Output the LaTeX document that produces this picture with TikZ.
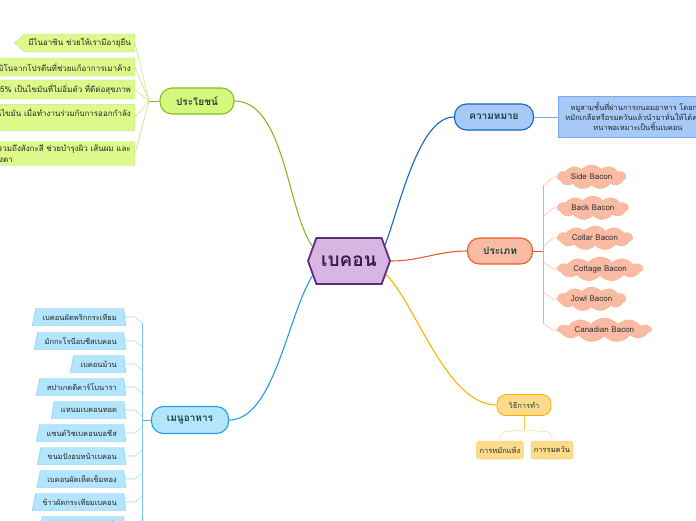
\documentclass[tikz,border=0pt]{standalone}
\usepackage{fontspec}
\setmainfont{Loma}[Script=Thai]
\usetikzlibrary{shapes.symbols,shapes.geometric}

\definecolor{purplefill}{HTML}{D9B5E3}
\definecolor{purpleline}{HTML}{5E2D79}
\definecolor{labelgreen}{HTML}{17453A}
\definecolor{limefill}{HTML}{D5F77E}
\definecolor{limeline}{HTML}{84BD1A}
\definecolor{limelight}{HTML}{C6E67C}
\definecolor{limebox}{HTML}{DDF98C}
\definecolor{blueline}{HTML}{1565C0}
\definecolor{bluefill}{HTML}{A6C9F7}
\definecolor{bluelight}{HTML}{78A7EA}
\definecolor{orangeline}{HTML}{F05A28}
\definecolor{salmonfill}{HTML}{F9BBA3}
\definecolor{salmonlight}{HTML}{F8C3AE}
\definecolor{yellowline}{HTML}{FFB300}
\definecolor{yellowfill}{HTML}{FDDB8C}
\definecolor{yellowlight}{HTML}{FBE0A0}
\definecolor{cyanline}{HTML}{1E9EE3}
\definecolor{cyanfill}{HTML}{B3E5FC}
\definecolor{cyanlight}{HTML}{A3DBF7}

\tikzset{
  topic/.style={rectangle, rounded corners=12pt, minimum height=26pt, line width=1.1pt,
    font=\fontsize{10}{12}\selectfont\bfseries, text=labelgreen},
  benefitbox/.style={signal, signal to=west, signal pointer angle=84, fill=limebox, draw=limelight,
    font=\fontsize{8}{10.5}\selectfont, text=black!85, align=left, inner xsep=4pt, minimum height=18pt, anchor=east},
  typecloud/.style={cloud, cloud puffs=11, cloud puff arc=100, cloud ignores aspect, fill=salmonfill,
    draw=salmonlight!80!orange, font=\fontsize{8}{9}\selectfont, text=black!80, inner xsep=4pt,
    inner ysep=1pt, minimum height=24pt, anchor=west},
  menubox/.style={trapezium, trapezium stretches body=true, trapezium left angle=68, trapezium right angle=77,
    fill=cyanfill, draw=cyanlight!70!cyanline, font=\fontsize{7.5}{9}\selectfont, text=black!85,
    inner xsep=7pt, inner ysep=1pt, minimum height=17pt, anchor=east},
  stepsbox/.style={rectangle, rounded corners=2pt, fill=yellowfill, draw=yellowlight!70!yellowline,
    font=\fontsize{7.5}{9}\selectfont, text=black!85, minimum height=18pt, inner xsep=3pt},
  link/.style={line width=1.1pt},
  twig/.style={line width=0.6pt}
}

\begin{document}
\begin{tikzpicture}[x=1pt,y=-1pt]
\useasboundingbox (0,0) rectangle (696,520);
\clip (0,0) rectangle (696,520);

% centre
\node[signal, signal to=east and west, signal pointer angle=140, fill=purplefill, draw=purpleline,
  line width=1.8pt, minimum width=82pt, minimum height=46pt,
  font=\fontsize{19}{22}\selectfont\bfseries, text=purpleline!60!black] (bacon) at (349,261) {เบคอน};

% main topics
\node[topic, fill=limefill, draw=limeline, minimum width=74pt] (benefit) at (197,101) {ประโยชน์};
\node[topic, fill=bluefill, draw=blueline, minimum width=79pt] (meaning) at (494,117) {ความหมาย};
\node[topic, fill=salmonfill, draw=orangeline, minimum width=65pt] (kind) at (500,251) {ประเภท};
\node[topic, fill=yellowfill, draw=yellowline!85!orange, minimum width=54pt, minimum height=21pt,
  rounded corners=9pt, line width=0.8pt, font=\fontsize{7.5}{9}\selectfont] (method) at (524,405) {วิธีการทำ};
\node[topic, fill=cyanfill, draw=cyanline, minimum width=77pt, minimum height=27pt] (menu) at (190,420) {เมนูอาหาร};

\draw[link, limeline] (bacon.158) .. controls +(-25,-35) and +(50,0) .. (benefit.east);
\draw[link, blueline] (bacon.24) .. controls +(15,-40) and +(-35,0) .. (meaning.west);
\draw[link, orangeline] (bacon.east) .. controls +(30,0) and +(-30,0) .. (kind.west);
\draw[link, yellowline] (bacon.-20) .. controls +(30,30) and +(-50,0) .. (method.west);
\draw[link, cyanline] (bacon.-158) .. controls +(-25,40) and +(45,0) .. (menu.east);

% meaning
\node[rectangle, fill=bluefill, draw=bluelight, font=\fontsize{7.5}{10}\selectfont, text=black!85,
  align=center, minimum height=41pt, text width=152pt] (define) at (638,117)
  {หมูสามชั้นที่ผ่านการถนอมอาหาร โดยการ\\หมักเกลือหรือรมควันแล้วนำมาหั่นให้ได้ความ\\หนาพอเหมาะเป็นชิ้นเบคอน};
\draw[twig, bluelight] (meaning.east) -- (define.west);

% benefits
\node[benefitbox] (b1) at (135,43) {มีไนอาซิน ช่วยให้เรามีอายุยืน};
\node[benefitbox] (b2) at (135,67) {มีกรดอะมิโนจากโปรตีนที่ช่วยแก้อาการเมาค้าง};
\node[benefitbox, minimum height=19pt] (b3) at (135,89.5) {ไขมันในเบคอน 45\% เป็นไขมันที่ไม่อิ่มตัว ที่ดีต่อสุขภาพ};
\node[benefitbox] (b4) at (135,117.5) {มีโคลีน ช่วยลดชั้นไขมัน เมื่อทำงานร่วมกับการออกกำลัง\\กาย};
\node[benefitbox] (b5) at (135,153.5) {ยังรวมถึงสังกะสี ช่วยบำรุงผิว เส้นผม และ\\ดวงตา};
\coordinate (bhub) at (149,101);
\draw[twig, limeline] (benefit.west) -- (bhub);
\foreach \b in {b1,b2,b3,b4,b5}
  \draw[twig, limelight] (\b.east) -- (bhub);

% kinds
\node[typecloud] (k1) at (557,177) {Side Bacon};
\node[typecloud] (k2) at (557,208) {Back Bacon};
\node[typecloud] (k3) at (557,238) {Collar Bacon};
\node[typecloud] (k4) at (557,269) {Cottage Bacon};
\node[typecloud] (k5) at (557,299) {Jowl Bacon};
\node[typecloud] (k6) at (557,330) {Canadian Bacon};
\coordinate (kfork) at (543,251);
\coordinate (ktop) at (543,186);
\coordinate (kbot) at (543,323);
\draw[twig, orangeline] (kind.east) -- (kfork);
\draw[twig, orangeline!55!white] (ktop) -- (kbot);
\foreach \k in {k1,k2,k3}
  \draw[twig, salmonlight] (\k.west) -- ++(-4,0) -- ++(-10,9);
\foreach \k in {k4,k5,k6}
  \draw[twig, salmonlight] (\k.west) -- ++(-4,0) -- ++(-10,-7);

% method
\node[stepsbox] (dry) at (500,450) {การหมักแห้ง};
\node[stepsbox] (smoke) at (552,450) {การรมควัน};
\coordinate (mfork) at (524,430);
\draw[twig, yellowline!70!white] (method.south) -- (mfork);
\draw[twig, yellowlight] (dry.north) -- ++(0,-5) -- ++(4,-4) -- (mfork);
\draw[twig, yellowlight] (smoke.north) -- ++(0,-5) -- ++(-4,-4) -- (mfork);

% menu
\node[menubox] (m1) at (125,317) {เบคอนผัดพริกกระเทียม};
\node[menubox] (m2) at (125,341) {มักกะโรนีอบชีสเบคอน};
\node[menubox] (m3) at (125,364) {เบคอนม้วน};
\node[menubox] (m4) at (125,387) {สปาเกตตีคาร์โบนารา};
\node[menubox] (m5) at (125,410) {แหนมเบคอนทอด};
\node[menubox] (m6) at (125,433) {แซนด์วิชเบคอนบอชีส};
\node[menubox] (m7) at (125,456) {ขนมปังอบหน้าเบคอน};
\node[menubox] (m8) at (125,479) {เบคอนผัดเห็ดเข็มทอง};
\node[menubox] (m9) at (125,502) {ข้าวผัดกระเทียมเบคอน};
\node[menubox] (m10) at (125,525) {เบคอนพันหน่อไม้ฝรั่ง};
\coordinate (mtop) at (142,323);
\coordinate (mbot) at (142,530);
\draw[twig, cyanline!80!white] (menu.west) -- (menu.west -| mtop);
\draw[twig, cyanline!60!white] (mtop) -- (mbot);
\foreach \m in {m1,m2,m3,m4,m5}
  \draw[twig, cyanlight] (\m.east) -- ++(10,0) -- ++(7,6);
\foreach \m in {m6,m7,m8,m9,m10}
  \draw[twig, cyanlight] (\m.east) -- ++(10,0) -- ++(7,-6);
\end{tikzpicture}
\end{document}
